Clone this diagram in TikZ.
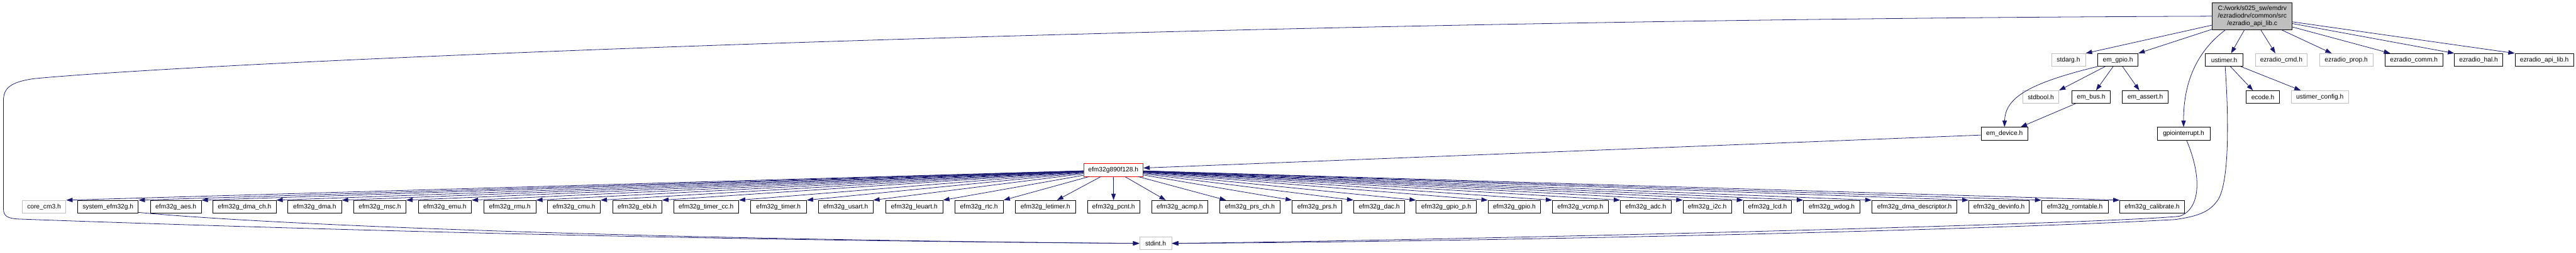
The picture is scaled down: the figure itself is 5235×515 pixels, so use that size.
\documentclass[tikz,border=0pt]{standalone}
\usepackage{fontspec}
\setmainfont{Liberation Sans}
\usetikzlibrary{arrows.meta}
\definecolor{edgec}{HTML}{191970}
\definecolor{graybd}{HTML}{BFBFBF}
\begin{document}
\begin{tikzpicture}[x=1pt,y=-1pt,
  every node/.style={font=\fontsize{13.1}{15}\selectfont},
  box/.style={draw=black, line width=1pt, fill=white, inner sep=0pt, minimum height=26pt, anchor=center},
  gbox/.style={box, draw=graybd},
  rbox/.style={box, draw=red},
  topbox/.style={box, fill=graybd, minimum height=54pt, align=center},
  edge/.style={draw=edgec, line width=1pt, -{Triangle[length=13pt,width=9pt]}},
]
\useasboundingbox[fill=white] (0,0) rectangle (5235,515);

% top node
\node[topbox, minimum width=162pt] (top) at (4577,33) {C:/work/s025\_sw/emdrv\\/ezradiodrv/common/src\\/ezradio\_api\_lib.c};

% row 1
\node[gbox, minimum width=69pt]  (stdarg) at (4203.5,122) {stdarg.h};
\node[box,  minimum width=82pt]  (emgpio) at (4304,122) {em\_gpio.h};
\node[box,  minimum width=76pt]  (ust)    at (4520,122) {ustimer.h};
\node[gbox, minimum width=106pt] (ezcmd)  at (4636,122) {ezradio\_cmd.h};
\node[gbox, minimum width=108pt] (ezprop) at (4768,122) {ezradio\_prop.h};
\node[box,  minimum width=117pt] (ezcomm) at (4905.5,122) {ezradio\_comm.h};
\node[box,  minimum width=98pt]  (ezhal)  at (5037,122) {ezradio\_hal.h};
\node[box,  minimum width=119pt] (ezlib)  at (5170.5,122) {ezradio\_api\_lib.h};

% row 2
\node[gbox, minimum width=73pt]  (stdbool) at (4147.5,197.5) {stdbool.h};
\node[box,  minimum width=79pt]  (embus)   at (4249.5,197.5) {em\_bus.h};
\node[box,  minimum width=93pt]  (emassert) at (4359.5,197.5) {em\_assert.h};
\node[box,  minimum width=67pt]  (ecode)   at (4598.5,197.5) {ecode.h};
\node[gbox, minimum width=117pt] (ustcfg)  at (4714.5,197.5) {ustimer\_config.h};

% row 3
\node[box, minimum width=95pt]  (emdev)   at (4073.5,272) {em\_device.h};
\node[box, minimum width=107pt] (gpioint) at (4437.5,272) {gpiointerrupt.h};

% row 4
\node[rbox, minimum width=121pt] (efm) at (2262.5,346) {efm32g890f128.h};

% row 5
\node[gbox, minimum width=89pt]  (r1)  at (89.5,421)   {core\_cm3.h};
\node[box,  minimum width=123pt] (r2)  at (219.5,421)  {system\_efm32g.h};
\node[box,  minimum width=103pt] (r3)  at (357.5,421)  {efm32g\_aes.h};
\node[box,  minimum width=128pt] (r4)  at (497,421)    {efm32g\_dma\_ch.h};
\node[box,  minimum width=109pt] (r5)  at (639.5,421)  {efm32g\_dma.h};
\node[box,  minimum width=106pt] (r6)  at (772,421)    {efm32g\_msc.h};
\node[box,  minimum width=108pt] (r7)  at (904,421)    {efm32g\_emu.h};
\node[box,  minimum width=106pt] (r8)  at (1036,421)   {efm32g\_rmu.h};
\node[box,  minimum width=107pt] (r9)  at (1166.5,421) {efm32g\_cmu.h};
\node[box,  minimum width=100pt] (r10) at (1295,421)   {efm32g\_ebi.h};
\node[box,  minimum width=132pt] (r11) at (1435,421)   {efm32g\_timer\_cc.h};
\node[box,  minimum width=114pt] (r12) at (1582,421)   {efm32g\_timer.h};
\node[box,  minimum width=111pt] (r13) at (1718.5,421) {efm32g\_usart.h};
\node[box,  minimum width=116pt] (r14) at (1858,421)   {efm32g\_leuart.h};
\node[box,  minimum width=99pt]  (r15) at (1989.5,421) {efm32g\_rtc.h};
\node[box,  minimum width=123pt] (r16) at (2124.5,421) {efm32g\_letimer.h};
\node[box,  minimum width=106pt] (r17) at (2263,421)   {efm32g\_pcnt.h};
\node[box,  minimum width=115pt] (r18) at (2397.5,421) {efm32g\_acmp.h};
\node[box,  minimum width=122pt] (r19) at (2540,421)   {efm32g\_prs\_ch.h};
\node[box,  minimum width=101pt] (r20) at (2676.5,421) {efm32g\_prs.h};
\node[box,  minimum width=104pt] (r21) at (2803,421)   {efm32g\_dac.h};
\node[box,  minimum width=122pt] (r22) at (2939,421)   {efm32g\_gpio\_p.h};
\node[box,  minimum width=107pt] (r23) at (3077.5,421) {efm32g\_gpio.h};
\node[box,  minimum width=113pt] (r24) at (3211.5,421) {efm32g\_vcmp.h};
\node[box,  minimum width=103pt] (r25) at (3344.5,421) {efm32g\_adc.h};
\node[box,  minimum width=99pt]  (r26) at (3469.5,421) {efm32g\_i2c.h};
\node[box,  minimum width=98pt]  (r27) at (3592,421)   {efm32g\_lcd.h};
\node[box,  minimum width=115pt] (r28) at (3722.5,421) {efm32g\_wdog.h};
\node[box,  minimum width=173pt] (r29) at (3890.5,421) {efm32g\_dma\_descriptor.h};
\node[box,  minimum width=123pt] (r30) at (4062.5,421) {efm32g\_devinfo.h};
\node[box,  minimum width=135pt] (r31) at (4216.5,421) {efm32g\_romtable.h};
\node[box,  minimum width=131pt] (r32) at (4373.5,421) {efm32g\_calibrate.h};

% row 6
\node[gbox, minimum width=65pt] (stdint) at (2348.5,495.5) {stdint.h};

% edges from top node
\draw[edge] (top) -- (stdarg.north east);
\draw[edge] (top) -- (emgpio.north east);
\draw[edge] (top) -- ([xshift=14pt]ust.north);
\draw[edge] (top) -- ([xshift=-12pt]ezcmd.north);
\draw[edge] (top) -- ([xshift=25pt]ezprop.north west);
\draw[edge] (top) -- ([xshift=11pt]ezcomm.north west);
\draw[edge] (top) -- (ezhal.north west);
\draw[edge] (top) -- (ezlib.north west);
\draw[edge] ([xshift=-54pt]top.south) .. controls (4470,100) and (4437,160) .. (gpioint.north);
\draw[edge] (top.west) .. controls (2500,40) and (500,120) .. (70,160)
   .. controls (20,167) and (7,180) .. (7,205) -- (7,425)
   .. controls (7,440) and (15,445) .. (40,446)
   .. controls (700,470) and (1500,490) .. (stdint.west);

% em_gpio
\draw[edge] (emgpio) -- (stdbool.north east);
\draw[edge] (emgpio) -- ([xshift=10pt]embus.north);
\draw[edge] (emgpio) -- ([xshift=-12pt]emassert.north);
\draw[edge] (emgpio.south west) .. controls (4120,170) and (4075,200) .. (emdev.north);
\draw[edge] (embus) -- ([xshift=33pt]emdev.north);

% ustimer
\draw[edge] (ust) -- ([xshift=-20pt]ecode.north);
\draw[edge] (ust) -- ([xshift=20pt]ustcfg.north west);
\draw[edge] ([xshift=2pt]ust.south) .. controls (4530,250) and (4530,380) .. (4505,410)
   .. controls (4490,430) and (4470,440) .. (4420,447)
   .. controls (4000,470) and (3000,492) .. (stdint.east);

% gpiointerrupt
\draw[edge] ([xshift=6pt]gpioint.south) .. controls (4475,360) and (4472,425) .. (4430,440)
   .. controls (4300,455) and (3000,488) .. (stdint.east);

% em_device
\draw[edge] ([yshift=-3pt]emdev.west) -- ([yshift=4pt]efm.east);

% efm32g890f128.h fan-out
\foreach \i in {1,...,15} \draw[edge] (efm) -- (r\i.north east);
\draw[edge] (efm) -- ([xshift=23.5pt]r16.north);
\draw[edge] (efm) -- (r17.north);
\draw[edge] (efm) -- ([xshift=-28.5pt]r18.north);
\draw[edge] (efm) -- ([xshift=13pt]r19.north west);
\foreach \i in {20,...,32} \draw[edge] (efm) -- (r\i.north west);

% system_efm32g.h -> stdint.h
\draw[edge] ([yshift=2pt]r2.south east) .. controls (600,462) and (1400,488) .. (stdint.west);
\end{tikzpicture}
\end{document}
